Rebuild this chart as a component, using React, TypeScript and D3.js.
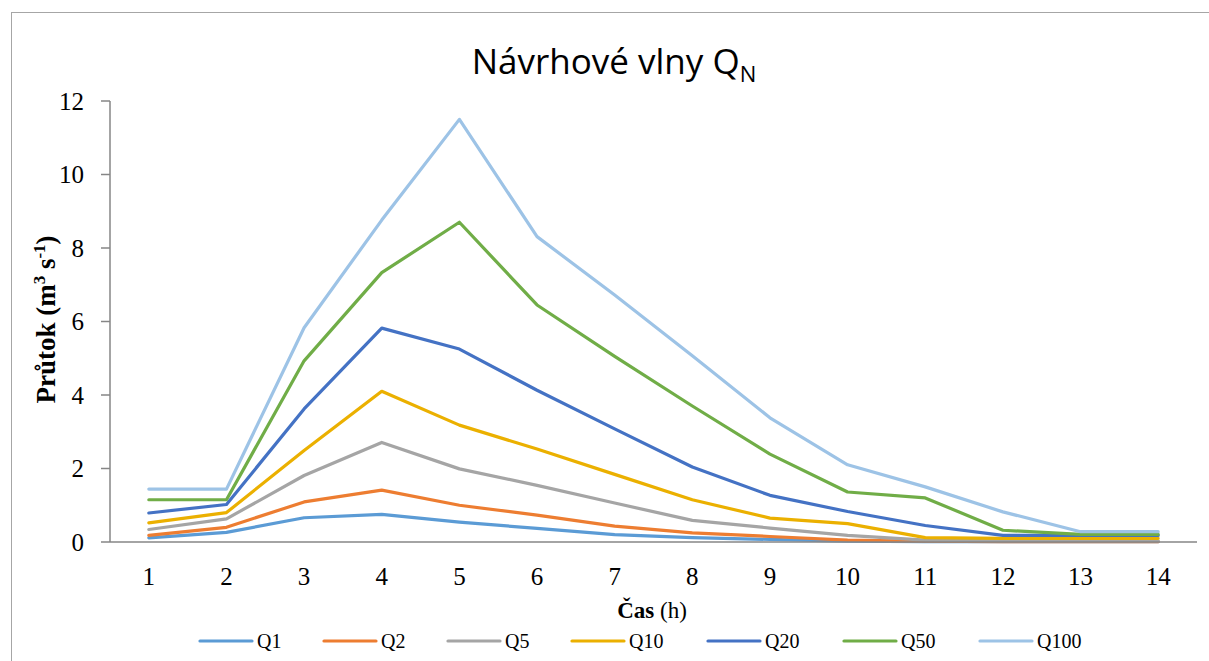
import React from "react";
import * as d3 from "d3";

const hours = [1, 2, 3, 4, 5, 6, 7, 8, 9, 10, 11, 12, 13, 14];
const yTicks = [0, 2, 4, 6, 8, 10, 12];

const q1 = [0.11, 0.26, 0.66, 0.75, 0.54, 0.37, 0.2, 0.12, 0.07, 0.02, 0.01, 0.01, 0.01, 0.01];
const q2 = [0.18, 0.4, 1.09, 1.41, 1.0, 0.73, 0.43, 0.25, 0.15, 0.05, 0.02, 0.01, 0.01, 0.01];
const q5 = [0.34, 0.63, 1.81, 2.71, 1.99, 1.54, 1.06, 0.59, 0.38, 0.18, 0.05, 0.03, 0.03, 0.03];
const q10 = [0.52, 0.8, 2.49, 4.1, 3.18, 2.53, 1.84, 1.15, 0.65, 0.5, 0.12, 0.1, 0.1, 0.1];
const q20 = [0.79, 1.02, 3.62, 5.82, 5.25, 4.13, 3.08, 2.04, 1.27, 0.83, 0.45, 0.18, 0.18, 0.18];
const q50 = [1.15, 1.15, 4.93, 7.33, 8.7, 6.45, 5.05, 3.7, 2.39, 1.36, 1.2, 0.32, 0.21, 0.21];
const q100 = [1.44, 1.44, 5.83, 8.76, 11.5, 8.31, 6.72, 5.07, 3.38, 2.1, 1.5, 0.82, 0.28, 0.28];

const seriesNames = ["Q1", "Q2", "Q5", "Q10", "Q20", "Q50", "Q100"];
const seriesValues = [q1, q2, q5, q10, q20, q50, q100];
const colors = ["#5b9bd5", "#ed7d31", "#a5a5a5", "#ebb000", "#4472c4", "#70ad47", "#9dc3e6"];

const W = 1209;
const H = 661;
const plot = { left: 110, right: 1197, top: 101, bottom: 542 };
const serif = "'Liberation Serif', 'DejaVu Serif', serif";
const sans = "'Open Sans', 'Noto Sans', sans-serif";

export default function App() {
  const x = d3
    .scaleBand<number>()
    .domain(hours)
    .range([plot.left, plot.right])
    .paddingInner(0)
    .paddingOuter(0);
  const cx = (h: number) => (x(h) as number) + x.bandwidth() / 2;

  const y = d3.scaleLinear().domain([0, 12]).range([plot.bottom, plot.top]);

  const line = d3
    .line<number>()
    .x((_, i) => cx(hours[i]))
    .y((d) => y(d));

  // legend layout: sample line, label, gap
  const legendY = 641;
  let acc = 200;
  const legendItems = seriesNames.map((name, i) => {
    const item = { name, color: colors[i], x: acc };
    acc += 52 + 5 + name.length * 12 + 43;
    return item;
  });

  return (
    <svg
      width={W}
      height={H}
      style={{ position: "absolute", left: 0, top: 0, background: "#fff" }}
    >
      <rect x={11.5} y={12.5} width={1220} height={680} fill="#fff" stroke="#a6a6a6" strokeWidth={1} />

      <text x={614} y={74} textAnchor="middle" fontFamily={sans} fontSize={35} fill="#000">
        Návrhové vlny Q<tspan fontSize={22} dy={8}>N</tspan>
      </text>

      {/* y axis */}
      <line x1={plot.left} x2={plot.left} y1={plot.top} y2={plot.bottom} stroke="#868686" strokeWidth={1.5} />
      {yTicks.map((t) => (
        <g key={t}>
          <line x1={plot.left - 9} x2={plot.left} y1={y(t)} y2={y(t)} stroke="#868686" strokeWidth={1.5} />
          <text x={84} y={y(t)} dy="0.35em" textAnchor="end" fontFamily={serif} fontSize={25} fill="#000">
            {t}
          </text>
        </g>
      ))}

      {/* x labels */}
      {hours.map((h) => (
        <text key={h} x={cx(h)} y={576} dy="0.35em" textAnchor="middle" fontFamily={serif} fontSize={25} fill="#000">
          {h}
        </text>
      ))}

      {/* series */}
      {seriesValues.map((vals, i) => (
        <path
          key={seriesNames[i]}
          d={line(vals) || ""}
          fill="none"
          stroke={colors[i]}
          strokeWidth={3.2}
          strokeLinejoin="round"
          strokeLinecap="round"
        />
      ))}

      <line x1={plot.left} x2={plot.right} y1={plot.bottom} y2={plot.bottom} stroke="#868686" strokeWidth={1.5} />

      {/* axis titles */}
      <text
        transform={`translate(46,${(plot.top + plot.bottom) / 2 - 2}) rotate(-90)`}
        textAnchor="middle"
        dy="0.35em"
        fontFamily={serif}
        fontSize={27}
        fontWeight="bold"
        fill="#000"
      >
        Průtok (m<tspan fontSize={17} dy={-10}>3</tspan>
        <tspan dy={10}> s</tspan>
        <tspan fontSize={17} dy={-10}>-1</tspan>
        <tspan dy={10}>)</tspan>
      </text>
      <text x={652} y={610} dy="0.35em" textAnchor="middle" fontFamily={serif} fontSize={23} fill="#000">
        <tspan fontWeight="bold">Čas</tspan> (h)
      </text>

      {/* legend */}
      {legendItems.map((it) => (
        <g key={it.name}>
          <line x1={it.x} x2={it.x + 52} y1={legendY} y2={legendY} stroke={it.color} strokeWidth={3.2} strokeLinecap="round" />
          <text x={it.x + 57} y={legendY} dy="0.35em" fontFamily={serif} fontSize={20} fill="#000">
            {it.name}
          </text>
        </g>
      ))}
    </svg>
  );
}
